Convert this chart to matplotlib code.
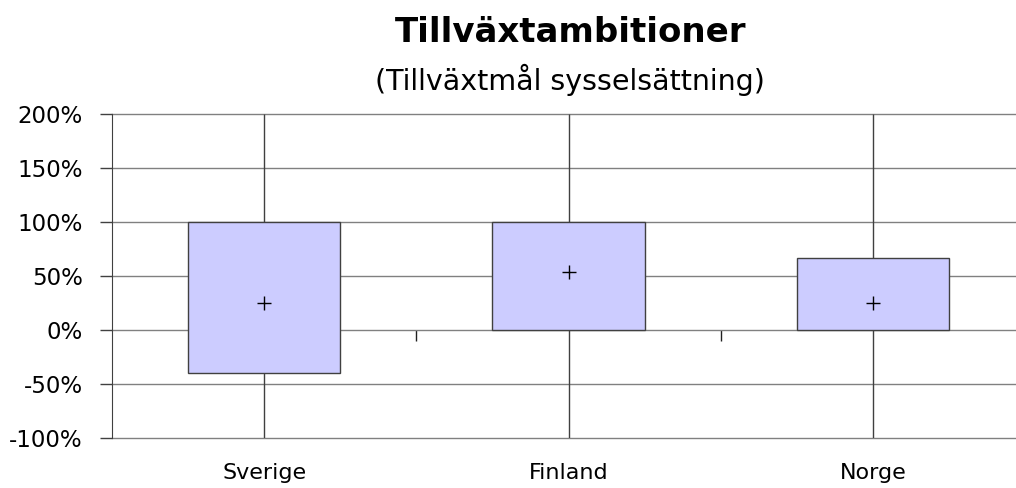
import matplotlib.pyplot as plt
import numpy as np
from matplotlib.ticker import PercentFormatter

categories = ['Sverige', 'Finland', 'Norge']
box_low = [-0.40, 0.00, 0.00]
box_high = [1.00, 1.00, 0.67]
means = [0.25, 0.54, 0.25]
whisker_low = [-1.0, -1.0, -1.0]
whisker_high = [2.0, 2.0, 2.0]
yticks = [-1.0, -0.5, 0.0, 0.5, 1.0, 1.5, 2.0]

plt.rcParams['font.family'] = ['DejaVu Sans']
plt.rcParams['axes.unicode_minus'] = False

fig = plt.figure(figsize=(10.16, 4.88), dpi=100)
ax = fig.add_axes([112 / 1016, 50 / 488, 1 - 112 / 1016, 324 / 488])

x = np.arange(len(categories))
low = np.array(box_low)
high = np.array(box_high)

# grid first, then whiskers, boxes, means
for y in yticks:
    ax.axhline(y, color='#808080', lw=1, zorder=1, clip_on=False)
ax.vlines(x, high, whisker_high, color='#404040', lw=1, zorder=2)
ax.vlines(x, whisker_low, low, color='#404040', lw=1, zorder=2)
ax.bar(x, high - low, bottom=low, width=0.5, color='#CCCCFF',
       edgecolor='#404040', lw=1, zorder=3)
ax.plot(x, means, '+', color='black', ms=10, mew=1, zorder=4)

ax.set_xlim(-0.5, 2.47)
ax.set_ylim(-1.0, 2.0)
ax.set_yticks(yticks)
ax.yaxis.set_major_formatter(PercentFormatter(1.0, decimals=0))
ax.tick_params(axis='y', length=9, width=1, color='#404040', labelsize=16.5, pad=12)
ax.set_xticks(x, labels=categories)
ax.tick_params(axis='x', length=0, labelsize=16, pad=18)

for s in ['top', 'right', 'bottom']:
    ax.spines[s].set_visible(False)
ax.spines['left'].set_color('#404040')

# category axis crossing at 0 with ticks between categories
sec = ax.secondary_xaxis(1 / 3)
sec.set_xticks([0.5, 1.5], labels=['', ''])
sec.tick_params(length=8, width=1, color='#202020')
sec.spines['bottom'].set_visible(False)

fig.text(571 / 1016, 1 - 33 / 488, 'Tillväxtambitioner', ha='center',
         va='center', fontsize=24.5, fontweight='bold')
fig.text(570 / 1016, 1 - 80 / 488, '(Tillväxtmål sysselsättning)',
         ha='center', va='center', fontsize=20.5)

fig.savefig('out.png', dpi=100)
